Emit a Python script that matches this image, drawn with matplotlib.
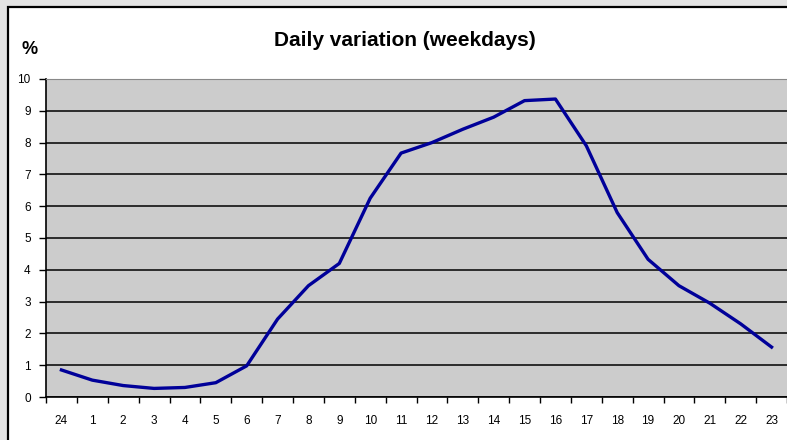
import matplotlib
matplotlib.use('Agg')
from matplotlib import pyplot as plt
from matplotlib.patches import Rectangle

plt.rcParams['font.family'] = ['Liberation Sans', 'DejaVu Sans']

# hours (24 = midnight) and share of daily traffic in %
hours = ['24', '1', '2', '3', '4', '5', '6', '7', '8', '9', '10', '11',
         '12', '13', '14', '15', '16', '17', '18', '19', '20', '21', '22', '23']
share = [0.85, 0.53, 0.36, 0.27, 0.30, 0.45, 0.98, 2.45, 3.5, 4.2, 6.25, 7.67,
         8.0, 8.42, 8.8, 9.32, 9.37, 7.9, 5.8, 4.33, 3.5, 2.95, 2.3, 1.57]
yticks = [0, 1, 2, 3, 4, 5, 6, 7, 8, 9, 10]

fig = plt.figure(figsize=(7.87, 4.40), dpi=100)
fig.patch.set_facecolor('#e3e3e3')

# white chart area with black frame (runs off the right/bottom edge)
W, H = 787, 440
fig.patches.append(Rectangle((8 / W, -0.1), 1.2, (H - 7) / H + 0.1,
                             transform=fig.transFigure, facecolor='white',
                             edgecolor='black', linewidth=1.6, zorder=-1))

ax = fig.add_axes([46 / W, (H - 397) / H, 1 - 46 / W, (397 - 79) / H])
ax.set_zorder(2)
ax.set_facecolor('#cccccc')

x = list(range(len(hours)))
ax.plot(x, share, color='#000099', linewidth=2.4, zorder=3)

ax.set_ylim(0, 10)
ax.set_yticks(yticks)
ax.set_yticklabels([str(t) for t in yticks], fontsize=8.5)
ax.yaxis.grid(True, color='black', linewidth=1.1)
ax.set_axisbelow(True)

ax.set_xlim(-0.5, len(hours) - 0.5)
ax.set_xticks([i - 0.5 for i in range(len(hours) + 1)])
ax.set_xticklabels([])
ax.set_xticks(x, minor=True)
ax.set_xticklabels(hours, minor=True, fontsize=8.5)
ax.tick_params(axis='x', which='minor', length=0, pad=13)
ax.tick_params(axis='x', which='major', length=4, width=1, direction='out')
ax.tick_params(axis='y', length=5, width=1, direction='out', pad=6)

ax.spines['top'].set_color('#888888')
ax.spines['right'].set_visible(False)
ax.spines['left'].set_linewidth(1.2)
ax.spines['bottom'].set_linewidth(1.2)

fig.text(405 / W, 1 - 40 / H, 'Daily variation (weekdays)', ha='center',
         va='center', fontsize=15, fontweight='bold', zorder=3)
fig.text(30 / W, 1 - 50 / H, '%', ha='center', va='center',
         fontsize=13, fontweight='bold', zorder=3)

fig.savefig('out.png', dpi=100, facecolor=fig.get_facecolor())
